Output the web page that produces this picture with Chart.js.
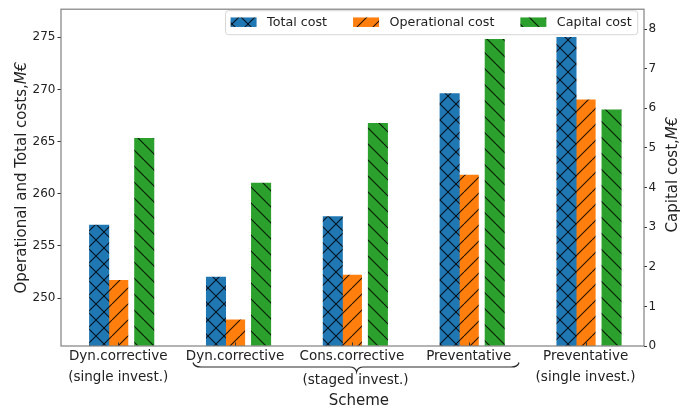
<!DOCTYPE html>
<html>
<head>
<meta charset="utf-8">
<script src="https://cdn.jsdelivr.net/npm/chart.js@4.4.1/dist/chart.umd.min.js"></script>
<style>
  html, body { margin: 0; padding: 0; background: #ffffff; }
  #wrap { width: 687px; height: 409px; position: relative; }
</style>
</head>
<body>
<div id="wrap"><canvas id="c" width="687" height="409"></canvas></div>
<script>
// Scheme names and their investment type (second tick line)
const SCHEMES = ['Dyn.corrective', 'Dyn.corrective', 'Cons.corrective', 'Preventative', 'Preventative'];
const INVESTMENT = ['(single invest.)', '', '', '', '(single invest.)'];
const STAGED_LABEL = '(staged invest.)';

// Costs in M€
const TOTAL_COST = [257.0, 252.0, 257.8, 269.6, 275.0];
const OPERATIONAL_COST = [251.7, 247.9, 252.2, 261.8, 269.0];
const CAPITAL_COST = [5.24, 4.11, 5.62, 7.74, 5.96];

// Axis ticks
const LEFT_TICKS = [250, 255, 260, 265, 270, 275];
const RIGHT_TICKS = [0, 1, 2, 3, 4, 5, 6, 7, 8];

const SERIES_NAMES = ['Total cost', 'Operational cost', 'Capital cost'];

const FONT = '"DejaVu Sans", sans-serif';
const TEXT = '#222222';

const canvas = document.getElementById('c');
const mainCtx = canvas.getContext('2d');

// Matplotlib-like hatch fills
function hatch(color, kind) {
  const s = 16;
  const c = document.createElement('canvas');
  c.width = s; c.height = s;
  const g = c.getContext('2d');
  g.fillStyle = color;
  g.fillRect(0, 0, s, s);
  g.strokeStyle = 'rgba(0,0,0,0.85)';
  g.lineWidth = 1.1;
  g.beginPath();
  for (let k = -1; k <= 1; k++) {
    if (kind.includes('/')) { g.moveTo(k * s, s); g.lineTo(k * s + s, 0); }
    if (kind.includes('\\')) { g.moveTo(k * s, 0); g.lineTo(k * s + s, s); }
  }
  g.stroke();
  return mainCtx.createPattern(c, 'repeat');
}

const FILLS = [hatch('#1f77b4', '/\\'), hatch('#ff7f0e', '/'), hatch('#2ca02c', '\\')];

// Offsets of each bar from its scheme position (in scheme spacings)
const OFFSETS = [-0.1635, 0, 0.2225];

function toPoints(values, offset) {
  return values.map((v, i) => ({ x: i + offset, y: v }));
}

function drawMixed(ctx, parts, x, y, rotation, size) {
  ctx.save();
  ctx.translate(x, y);
  ctx.rotate(rotation);
  ctx.textBaseline = 'middle';
  ctx.textAlign = 'left';
  let total = 0;
  const widths = parts.map(p => {
    ctx.font = (p.italic ? 'italic ' : '') + size + 'px ' + FONT;
    const w = ctx.measureText(p.text).width;
    total += w;
    return w;
  });
  let cx = -total / 2;
  parts.forEach((p, i) => {
    ctx.font = (p.italic ? 'italic ' : '') + size + 'px ' + FONT;
    ctx.fillStyle = TEXT;
    ctx.fillText(p.text, cx, 0);
    cx += widths[i];
  });
  ctx.restore();
}

const decorations = {
  id: 'decorations',
  afterDatasetsDraw(chart) {
    const { ctx, chartArea: a, scales } = chart;
    ctx.save();
    // inward x ticks
    ctx.strokeStyle = '#333';
    ctx.lineWidth = 1;
    SCHEMES.forEach((_, i) => {
      const x = Math.round(scales.x.getPixelForValue(i)) + 0.5;
      ctx.beginPath();
      ctx.moveTo(x, a.bottom);
      ctx.lineTo(x, a.bottom - 3.5);
      ctx.stroke();
    });
    // frame
    ctx.strokeStyle = '#808080';
    ctx.lineWidth = 1.2;
    ctx.strokeRect(a.left, a.top, a.right - a.left, a.bottom - a.top);
    ctx.restore();
  },
  afterDraw(chart) {
    const { ctx, chartArea: a, scales } = chart;
    const xs = scales.x;
    ctx.save();

    // Brace grouping the staged-investment schemes
    const bl = xs.getPixelForValue(0.64);
    const br = xs.getPixelForValue(3.43);
    const bm = xs.getPixelForValue(2.04);
    const yEnd = a.bottom + 16.5, yMid = a.bottom + 21, yTip = a.bottom + 26;
    ctx.strokeStyle = '#2a2a2a';
    ctx.lineWidth = 1.2;
    ctx.beginPath();
    ctx.moveTo(bl, yEnd);
    ctx.quadraticCurveTo(bl + 1, yMid, bl + 8, yMid);
    ctx.lineTo(bm - 7, yMid);
    ctx.quadraticCurveTo(bm - 1, yMid, bm, yTip);
    ctx.quadraticCurveTo(bm + 1, yMid, bm + 7, yMid);
    ctx.lineTo(br - 8, yMid);
    ctx.quadraticCurveTo(br - 1, yMid, br, yEnd);
    ctx.stroke();

    ctx.fillStyle = TEXT;
    ctx.textAlign = 'center';
    ctx.textBaseline = 'middle';
    ctx.font = '13.5px ' + FONT;
    ctx.fillText(STAGED_LABEL, bm - 1, a.bottom + 34);

    // Axis titles
    ctx.font = '15px ' + FONT;
    ctx.fillText('Scheme', xs.getPixelForValue(2.06), a.bottom + 55);
    drawMixed(ctx, [{ text: 'Operational and Total costs,', italic: false }, { text: 'M€', italic: true }],
      22, (a.top + a.bottom) / 2, -Math.PI / 2, 15);
    drawMixed(ctx, [{ text: 'Capital cost,', italic: false }, { text: 'M€', italic: true }],
      673, (a.top + a.bottom) / 2 - 3, -Math.PI / 2, 15);

    // Legend inside the top-right corner
    const fs = 12.7;
    ctx.font = fs + 'px ' + FONT;
    const sw = 26, sh = 9.5, gapText = 10.5, gapItem = 26, padL = 5, padR = 6;
    const tw = chart.data.datasets.map(d => ctx.measureText(d.label).width);
    let total = padL + padR;
    tw.forEach((w, i) => { total += sw + gapText + w + (i < tw.length - 1 ? gapItem : 0); });
    const boxR = a.right - 6.3;
    const boxL = boxR - total;
    const boxT = a.top + 1.5, boxH = 24;
    ctx.beginPath();
    if (ctx.roundRect) ctx.roundRect(boxL, boxT, total, boxH, 3);
    else ctx.rect(boxL, boxT, total, boxH);
    ctx.fillStyle = 'rgba(255,255,255,0.85)';
    ctx.fill();
    ctx.strokeStyle = '#d6d6d6';
    ctx.lineWidth = 1;
    ctx.stroke();
    let x = boxL + padL;
    const cy = boxT + boxH / 2 - 0.5;
    chart.data.datasets.forEach((d, i) => {
      ctx.fillStyle = d.backgroundColor;
      ctx.fillRect(x, cy - sh / 2, sw, sh);
      x += sw + gapText;
      ctx.fillStyle = TEXT;
      ctx.textAlign = 'left';
      ctx.fillText(d.label, x, cy);
      x += tw[i] + gapItem;
    });
    ctx.restore();
  }
};

const barCommon = { grouped: false, barThickness: 19.4, borderWidth: 0 };

new Chart(canvas, {
  type: 'bar',
  data: {
    datasets: [
      { ...barCommon, label: SERIES_NAMES[0], data: toPoints(TOTAL_COST, OFFSETS[0]), backgroundColor: FILLS[0], yAxisID: 'y' },
      { ...barCommon, label: SERIES_NAMES[1], data: toPoints(OPERATIONAL_COST, OFFSETS[1]), backgroundColor: FILLS[1], yAxisID: 'y' },
      { ...barCommon, label: SERIES_NAMES[2], data: toPoints(CAPITAL_COST, OFFSETS[2]), backgroundColor: FILLS[2], yAxisID: 'y1' }
    ]
  },
  options: {
    responsive: false,
    devicePixelRatio: 1,
    animation: false,
    events: [],
    layout: { padding: { top: 5, left: 0, right: 0, bottom: 0 } },
    plugins: { legend: { display: false }, tooltip: { enabled: false }, title: { display: false } },
    scales: {
      x: {
        type: 'linear',
        min: -0.49,
        max: 4.5,
        offset: false,
        afterBuildTicks: s => { s.ticks = SCHEMES.map((_, i) => ({ value: i })); },
        ticks: {
          autoSkip: false, maxRotation: 0, minRotation: 0, padding: 0,
          color: TEXT,
          font: { family: FONT, size: 13.5, lineHeight: 1.55 },
          callback: (v, i) => INVESTMENT[i] ? [SCHEMES[i], INVESTMENT[i]] : SCHEMES[i]
        },
        grid: { display: false, drawTicks: false },
        border: { display: false },
        afterFit: s => { s.height = 63; }
      },
      y: {
        type: 'linear',
        position: 'left',
        min: 245.4,
        max: 277.7,
        afterBuildTicks: s => { s.ticks = LEFT_TICKS.map(v => ({ value: v })); },
        ticks: { color: TEXT, padding: 2, font: { family: FONT, size: 12 } },
        grid: { drawOnChartArea: false, drawTicks: true, tickLength: 3.5, tickColor: '#333', tickWidth: 1 },
        border: { display: false },
        afterFit: s => { s.width = 61; }
      },
      y1: {
        type: 'linear',
        position: 'right',
        min: 0,
        max: 8.5,
        afterBuildTicks: s => { s.ticks = RIGHT_TICKS.map(v => ({ value: v })); },
        ticks: { color: TEXT, padding: 1.5, font: { family: FONT, size: 12 } },
        grid: { drawOnChartArea: false, drawTicks: true, tickLength: 3, tickColor: '#333', tickWidth: 1 },
        border: { display: false },
        afterFit: s => { s.width = 43; }
      }
    }
  },
  plugins: [decorations]
});
</script>
</body>
</html>
